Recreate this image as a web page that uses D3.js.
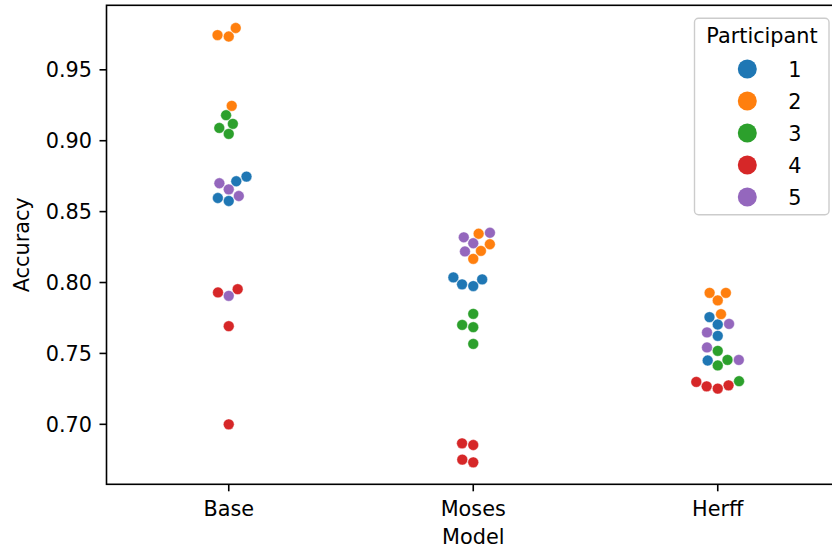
<!DOCTYPE html>
<html>
<head>
<meta charset="utf-8">
<script src="https://cdn.jsdelivr.net/npm/d3@7"></script>
<style>
  body { margin: 0; background: #fff; }
  text { font-family: "DejaVu Sans", sans-serif; fill: #000; }
</style>
</head>
<body>
<script>
	// data
	var models = ["Base", "Moses", "Herff"];
	var participants = ["1", "2", "3", "4", "5"];
	var colors = ["#1f77b4", "#ff7f0e", "#2ca02c", "#d62728", "#9467bd"];
	var yTicks = [0.70, 0.75, 0.80, 0.85, 0.90, 0.95];

	// accuracy per participant: [Base, Moses, Herff], 4 runs each
	var acc1 = [[0.8747, 0.8714, 0.8596, 0.8575], [0.8036, 0.8022, 0.7987, 0.7975], [0.7756, 0.7704, 0.7624, 0.7450]];
	var acc2 = [[0.9795, 0.9745, 0.9735, 0.9246], [0.8344, 0.8270, 0.8223, 0.8167], [0.7927, 0.7927, 0.7874, 0.7777]];
	var acc3 = [[0.9180, 0.9119, 0.9090, 0.9048], [0.7779, 0.7701, 0.7685, 0.7567], [0.7518, 0.7454, 0.7415, 0.7304]];
	var acc4 = [[0.7953, 0.7930, 0.7692, 0.7000], [0.6866, 0.6854, 0.6751, 0.6732], [0.7299, 0.7275, 0.7268, 0.7252]];
	var acc5 = [[0.8700, 0.8657, 0.8610, 0.7906], [0.8351, 0.8319, 0.8277, 0.8219], [0.7708, 0.7648, 0.7542, 0.7454]];
	var allAcc = [acc1, acc2, acc3, acc4, acc5];

	var svg_w = 832;
	var svg_h = 552;
	var svg = d3.select("body").append("svg")
		.attr("width", svg_w)
		.attr("height", svg_h);

	// plot area (no "top" as a global name, window.top is taken)
	var plotL = 106.5, plotT = 5.3, plotB = 484.3, bandW = 244.5;
	var plotR = plotL + bandW * models.length;

	var x = d3.scaleBand().domain(models).range([plotL, plotR]).padding(0);
	var y = d3.scaleLinear().domain([0.6577, 0.9955]).range([plotB, plotT]);

	var dotD = 10.8;

	// flat list of points
	var points = [];
	allAcc.forEach(function(acc, pi) {
		acc.forEach(function(vals, mi) {
			vals.forEach(function(v) {
				points.push({ model: models[mi], p: pi, value: v });
			});
		});
	});

	// seaborn-like beeswarm, per category
	function swarm(pts, center, d) {
		pts.forEach(function(p) { p.py = y(p.value); });
		var sorted = pts.slice().sort(function(a, b) { return b.py - a.py; });
		var placed = [];
		sorted.forEach(function(p) {
			var neighbors = [];
			for (var k = placed.length - 1; k >= 0; k--) {
				if (Math.abs(placed[k].py - p.py) < d) neighbors.push(placed[k]);
				else break;
			}
			var cands = [center];
			var leftFirst = true;
			neighbors.forEach(function(q) {
				var dy = p.py - q.py;
				var dx = Math.sqrt(Math.max(d * d - dy * dy, 0)) * 1.05;
				if (leftFirst) cands.push(q.px - dx, q.px + dx);
				else cands.push(q.px + dx, q.px - dx);
				leftFirst = !leftFirst;
			});
			var order = cands.map(function(c, i) { return i; });
			order.sort(function(a, b) {
				var da = Math.abs(cands[a] - center), db = Math.abs(cands[b] - center);
				return da - db || a - b;
			});
			var chosen = center;
			for (var o = 0; o < order.length; o++) {
				var cx = cands[order[o]];
				var ok = neighbors.every(function(q) {
					var ddx = cx - q.px, ddy = p.py - q.py;
					return ddx * ddx + ddy * ddy >= d * d - 1e-6;
				});
				if (ok) { chosen = cx; break; }
			}
			p.px = chosen;
			placed.push(p);
		});
	}

	models.forEach(function(m) {
		swarm(points.filter(function(p) { return p.model == m; }), x(m) + x.bandwidth() / 2, dotD);
	});

	// axes
	var yAxis = svg.append("g").attr("transform", "translate(" + plotL + ",0)");
	yTicks.forEach(function(t) {
		yAxis.append("line")
			.attr("x1", -7).attr("x2", 0)
			.attr("y1", y(t)).attr("y2", y(t))
			.attr("stroke", "#000").attr("stroke-width", 1.6);
		yAxis.append("text")
			.attr("x", -14.5).attr("y", y(t) + 7.5)
			.attr("text-anchor", "end")
			.style("font-size", "20.8px")
			.text(d3.format(".2f")(t));
	});

	var xAxis = svg.append("g").attr("transform", "translate(0," + plotB + ")");
	models.forEach(function(m) {
		var cx = x(m) + x.bandwidth() / 2;
		xAxis.append("line")
			.attr("x1", cx).attr("x2", cx)
			.attr("y1", 0).attr("y2", 7)
			.attr("stroke", "#000").attr("stroke-width", 1.6);
		xAxis.append("text")
			.attr("x", cx).attr("y", 31.4)
			.attr("text-anchor", "middle")
			.style("font-size", "20.8px")
			.text(m);
	});

	svg.append("text")
		.attr("transform", "translate(29," + ((plotT + plotB) / 2) + ") rotate(-90)")
		.attr("text-anchor", "middle")
		.style("font-size", "20.8px")
		.text("Accuracy");

	svg.append("text")
		.attr("x", x("Moses") + x.bandwidth() / 2).attr("y", 544)
		.attr("text-anchor", "middle")
		.style("font-size", "20.8px")
		.text("Model");

	// dots
	svg.append("g")
		.selectAll("circle")
		.data(points)
		.enter()
		.append("circle")
		.attr("cx", function(d) { return d.px; })
		.attr("cy", function(d) { return d.py; })
		.attr("r", dotD / 2)
		.attr("fill", function(d) { return colors[d.p]; })
		.attr("stroke", "#fff")
		.attr("stroke-width", 0.4);

	// spines
	svg.append("rect")
		.attr("x", plotL).attr("y", plotT)
		.attr("width", plotR - plotL).attr("height", plotB - plotT)
		.attr("fill", "none")
		.attr("stroke", "#000")
		.attr("stroke-width", 1.6);

	// legend
	var lg = svg.append("g");
	lg.append("rect")
		.attr("x", 694.5).attr("y", 18.3)
		.attr("width", 134.5).attr("height", 196.5)
		.attr("rx", 4)
		.attr("fill", "#fff").attr("fill-opacity", 0.8)
		.attr("stroke", "#cccccc").attr("stroke-width", 1.4);
	lg.append("text")
		.attr("x", 762).attr("y", 43.3)
		.attr("text-anchor", "middle")
		.style("font-size", "20.8px")
		.text("Participant");
	participants.forEach(function(p, i) {
		var ly = 69 + i * 32;
		lg.append("circle")
			.attr("cx", 747.3).attr("cy", ly)
			.attr("r", 9.5)
			.attr("fill", colors[i]);
		lg.append("text")
			.attr("x", 788.3).attr("y", ly + 7.5)
			.style("font-size", "20.8px")
			.text(p);
	});
</script>
</body>
</html>
